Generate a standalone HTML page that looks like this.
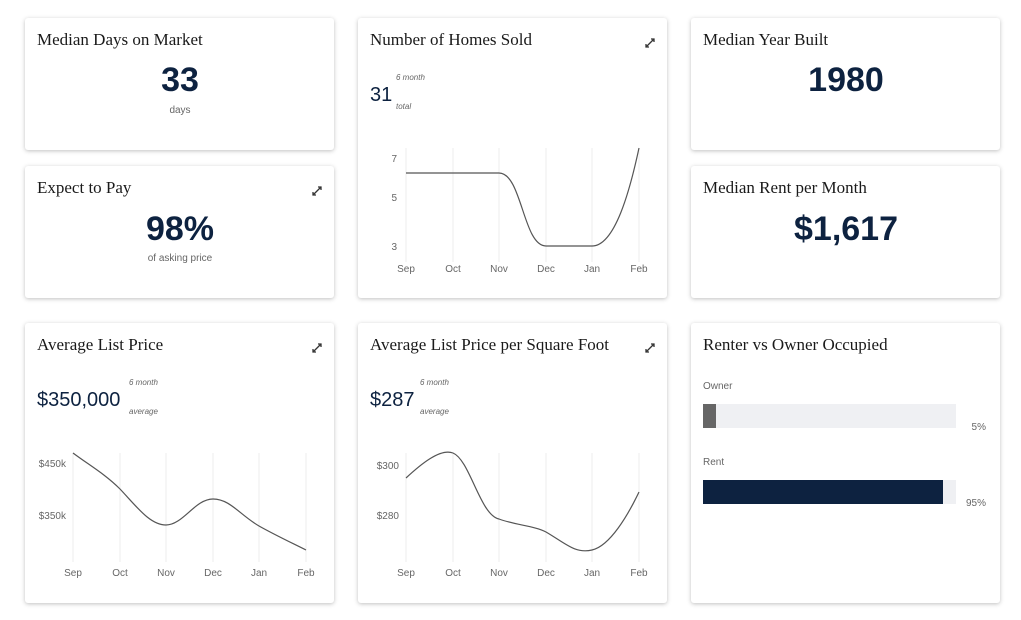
<!DOCTYPE html>
<html><head><style>
body{margin:0;width:1021px;height:620px;background:#fff;position:relative;overflow:hidden;font-family:"Liberation Sans",sans-serif}
.c{position:absolute;background:#fff;border-radius:3px;box-shadow:0 1px 4px rgba(0,0,0,0.25)}
svg{position:absolute;left:0;top:0}
.t{font-family:"Liberation Serif",serif;font-size:17px;fill:#1a1a1a}
.big{font-size:34px;font-weight:bold;fill:#0d2240}
.mid{font-size:20px;fill:#0d2240}
.s{font-size:10px;fill:#666}
.i{font-size:8px;font-style:italic;fill:#666}
.ax{font-size:10px;fill:#666}
.g{stroke:#eee;stroke-width:1}
.l{fill:none;stroke:#555;stroke-width:1.2}
</style></head><body>
<div class="c" style="left:25px;top:18px;width:309px;height:132px"></div>
<div class="c" style="left:358px;top:18px;width:309px;height:280px"></div>
<div class="c" style="left:691px;top:18px;width:309px;height:132px"></div>
<div class="c" style="left:25px;top:166px;width:309px;height:132px"></div>
<div class="c" style="left:691px;top:166px;width:309px;height:132px"></div>
<div class="c" style="left:25px;top:323px;width:309px;height:280px"></div>
<div class="c" style="left:358px;top:323px;width:309px;height:280px"></div>
<div class="c" style="left:691px;top:323px;width:309px;height:280px"></div>
<svg width="1021" height="620">
<text class="t" x="37" y="45">Median Days on Market</text>
<text class="big" x="180" y="91" text-anchor="middle">33</text>
<text class="s" x="180" y="113" text-anchor="middle">days</text>
<text class="t" x="37" y="193">Expect to Pay</text>
<text class="big" x="180" y="240" text-anchor="middle">98%</text>
<text class="s" x="180" y="261" text-anchor="middle">of asking price</text>
<text class="t" x="703" y="45">Median Year Built</text>
<text class="big" x="846" y="91" text-anchor="middle">1980</text>
<text class="t" x="703" y="193">Median Rent per Month</text>
<text class="big" x="846" y="240" text-anchor="middle">$1,617</text>
<g stroke="#333" stroke-width="1.3" fill="none">
<path d="M646 47l8-8M651 39h3v3M646 44v3h3"/>
<path d="M313 195l8-8M318 187h3v3M313 192v3h3"/>
<path d="M313 352l8-8M318 344h3v3M313 349v3h3"/>
<path d="M646 352l8-8M651 344h3v3M646 349v3h3"/>
</g>
<!-- Homes sold -->
<text class="t" x="370" y="45">Number of Homes Sold</text>
<text class="mid" x="370" y="101">31</text>
<text class="i" x="396" y="80">6 month</text>
<text class="i" x="396" y="109">total</text>
<g class="g"><line x1="406" y1="148" x2="406" y2="262"/><line x1="453" y1="148" x2="453" y2="262"/><line x1="499" y1="148" x2="499" y2="262"/><line x1="546" y1="148" x2="546" y2="262"/><line x1="592" y1="148" x2="592" y2="262"/><line x1="639" y1="148" x2="639" y2="262"/></g>
<text class="ax" x="397" y="162" text-anchor="end">7</text>
<text class="ax" x="397" y="201" text-anchor="end">5</text>
<text class="ax" x="397" y="250" text-anchor="end">3</text>
<g class="ax" text-anchor="middle"><text x="406" y="272">Sep</text><text x="453" y="272">Oct</text><text x="499" y="272">Nov</text><text x="546" y="272">Dec</text><text x="592" y="272">Jan</text><text x="639" y="272">Feb</text></g>
<path class="l" d="M406 173 L499 173 C522 173 523 246 546 246 L592 246 C615 246 630 190 639 148"/>
<!-- Avg list price -->
<text class="t" x="37" y="350">Average List Price</text>
<text class="mid" x="37" y="406">$350,000</text>
<text class="i" x="129" y="385">6 month</text>
<text class="i" x="129" y="414">average</text>
<g class="g"><line x1="73" y1="453" x2="73" y2="562"/><line x1="120" y1="453" x2="120" y2="562"/><line x1="166" y1="453" x2="166" y2="562"/><line x1="213" y1="453" x2="213" y2="562"/><line x1="259" y1="453" x2="259" y2="562"/><line x1="306" y1="453" x2="306" y2="562"/></g>
<text class="ax" x="66" y="467" text-anchor="end">$450k</text>
<text class="ax" x="66" y="519" text-anchor="end">$350k</text>
<g class="ax" text-anchor="middle"><text x="73" y="576">Sep</text><text x="120" y="576">Oct</text><text x="166" y="576">Nov</text><text x="213" y="576">Dec</text><text x="259" y="576">Jan</text><text x="306" y="576">Feb</text></g>
<path class="l" d="M73 453 C89 465 105 474 120 489 C137 507 150 525 166 525 C183 525 195 499 213 499 C230 499 240 515 259 526 C275 535 290 542 306 550"/>
<!-- per sqft -->
<text class="t" x="370" y="350">Average List Price per Square Foot</text>
<text class="mid" x="370" y="406">$287</text>
<text class="i" x="420" y="385">6 month</text>
<text class="i" x="420" y="414">average</text>
<g class="g"><line x1="406" y1="453" x2="406" y2="562"/><line x1="453" y1="453" x2="453" y2="562"/><line x1="499" y1="453" x2="499" y2="562"/><line x1="546" y1="453" x2="546" y2="562"/><line x1="592" y1="453" x2="592" y2="562"/><line x1="639" y1="453" x2="639" y2="562"/></g>
<text class="ax" x="399" y="469" text-anchor="end">$300</text>
<text class="ax" x="399" y="519" text-anchor="end">$280</text>
<g class="ax" text-anchor="middle"><text x="406" y="576">Sep</text><text x="453" y="576">Oct</text><text x="499" y="576">Nov</text><text x="546" y="576">Dec</text><text x="592" y="576">Jan</text><text x="639" y="576">Feb</text></g>
<path class="l" d="M406 478 C420 465 440 448 453 453 C470 460 480 515 499 519 C515 525 535 526 546 532 C565 543 575 554 592 550 C610 546 628 515 639 492"/>
<!-- renter -->
<text class="t" x="703" y="350">Renter vs Owner Occupied</text>
<text class="s" x="703" y="389">Owner</text>
<rect x="703" y="404" width="253" height="24" fill="#eff0f3"/>
<rect x="703" y="404" width="13" height="24" fill="#666"/>
<text class="s" x="986" y="430" text-anchor="end">5%</text>
<text class="s" x="703" y="465">Rent</text>
<rect x="703" y="480" width="253" height="24" fill="#eff0f3"/>
<rect x="703" y="480" width="240" height="24" fill="#0d2240"/>
<text class="s" x="986" y="506" text-anchor="end">95%</text>
</svg>
</body></html>
